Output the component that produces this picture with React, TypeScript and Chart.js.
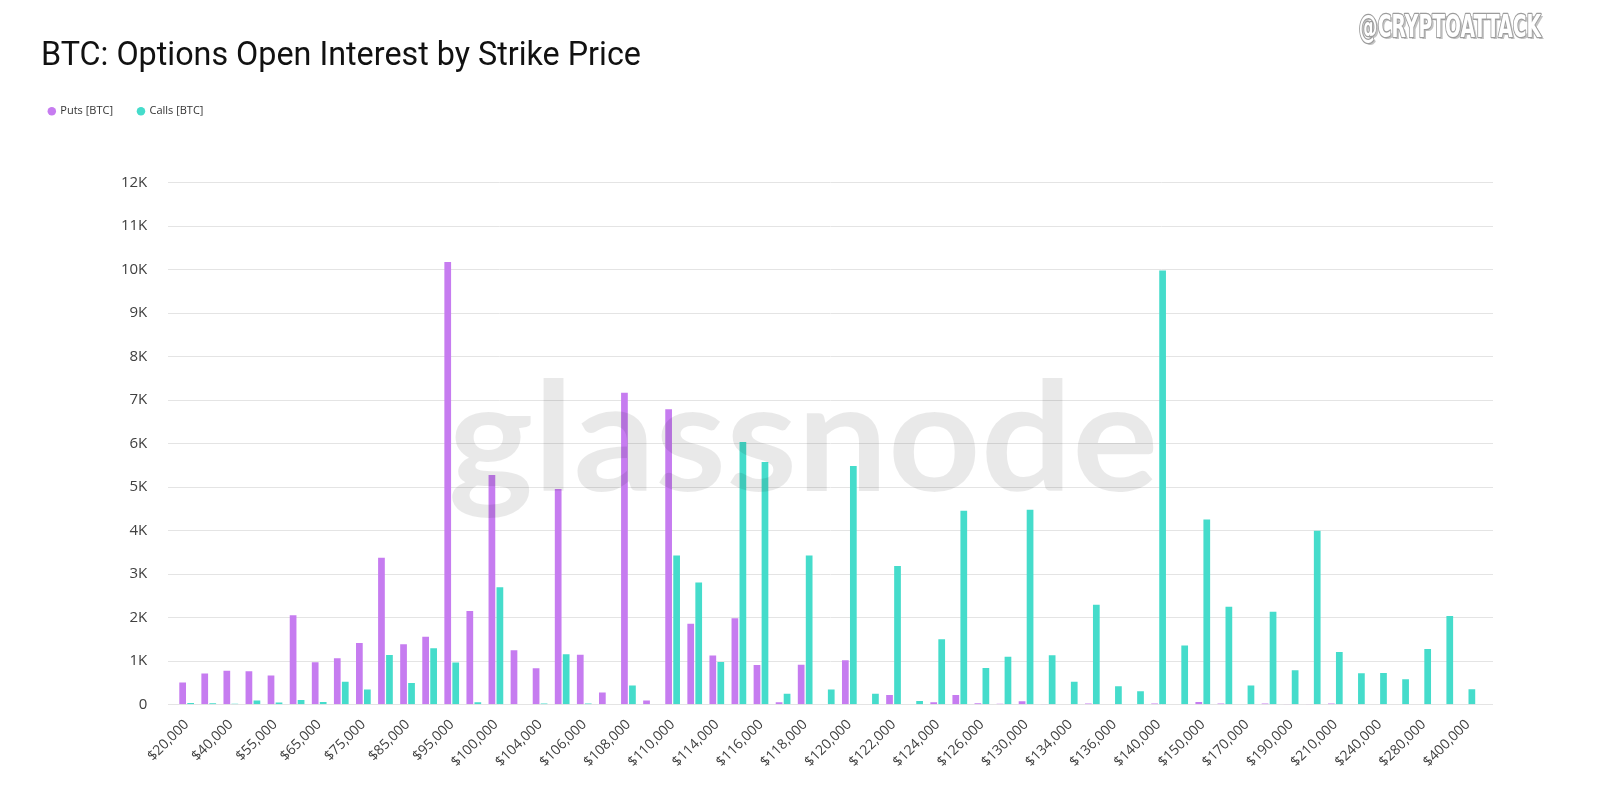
import React, { useEffect, useRef } from 'react';
import { Chart, registerables } from 'chart.js';

Chart.register(...registerables);

const TITLE = 'BTC: Options Open Interest by Strike Price';
const WATERMARK = 'glassnode';
const HANDLE = '@CRYPTOATTACK';

const strikeLabels = [
  '$20,000', '$30,000', '$40,000', '$50,000', '$55,000', '$60,000', '$65,000', '$70,000',
  '$75,000', '$80,000', '$85,000', '$90,000', '$95,000', '$98,000', '$100,000', '$102,000',
  '$104,000', '$105,000', '$106,000', '$107,000', '$108,000', '$109,000', '$110,000', '$112,000',
  '$114,000', '$115,000', '$116,000', '$117,000', '$118,000', '$119,000', '$120,000', '$121,000',
  '$122,000', '$123,000', '$124,000', '$125,000', '$126,000', '$128,000', '$130,000', '$132,000',
  '$134,000', '$135,000', '$136,000', '$138,000', '$140,000', '$145,000', '$150,000', '$160,000',
  '$170,000', '$180,000', '$190,000', '$200,000', '$210,000', '$220,000', '$240,000', '$260,000',
  '$280,000', '$300,000', '$400,000',
];

const putsOI = [
  500, 710, 770, 760, 660, 2050, 965, 1060,
  1410, 3370, 1380, 1555, 10170, 2145, 5270, 1240,
  830, 4950, 1140, 270, 7160, 85, 6780, 1850,
  1120, 1980, 905, 45, 910, 0, 1010, 0,
  215, 0, 45, 215, 25, 10, 70, 8,
  0, 20, 0, 0, 20, 0, 55, 20,
  0, 20, 8, 8, 20, 0, 0, 0,
  0, 0, 0,
];

const callsOI = [
  30, 25, 15, 85, 40, 100, 55, 520,
  340, 1135, 490, 1290, 960, 45, 2690, 0,
  20, 1150, 20, 0, 430, 0, 3420, 2800,
  975, 6030, 5570, 240, 3420, 340, 5480, 240,
  3180, 77, 1495, 4450, 835, 1095, 4470, 1125,
  520, 2290, 415, 300, 9970, 1350, 4250, 2240,
  430, 2130, 780, 3990, 1205, 715, 720, 575,
  1270, 2030, 345,
];

const PUTS_LABEL = 'Puts [BTC]';
const CALLS_LABEL = 'Calls [BTC]';
const PUTS_COLOR = '#c67cf0';
const CALLS_COLOR = '#45dccb';
const TEXT_COLOR = '#404040';
const GRID_COLOR = '#e4e4e4';

const extendedGrid = {
  id: 'extendedGrid',
  beforeDatasetsDraw(chart: any) {
    const { ctx, chartArea, scales } = chart;
    const y = scales.y;
    ctx.save();
    ctx.strokeStyle = GRID_COLOR;
    ctx.lineWidth = 1;
    y.ticks.forEach((t: any) => {
      const py = Math.round(y.getPixelForValue(t.value)) + 0.5;
      ctx.beginPath();
      ctx.moveTo(chartArea.left - 7.6, py);
      ctx.lineTo(chartArea.right + 14.1, py);
      ctx.stroke();
    });
    ctx.restore();
  },
};

const watermark = {
  id: 'watermark',
  afterDatasetsDraw(chart: any) {
    const { ctx, chartArea: a } = chart;
    const w = a.right - a.left;
    const h = a.bottom - a.top;
    const left = a.left + w * 0.2117;
    const targetW = w * 0.5394;
    const baseline = a.top + h * 0.5908;
    const targetAsc = h * 0.2134;
    ctx.save();
    ctx.textBaseline = 'alphabetic';
    ctx.textAlign = 'left';
    ctx.font = '700 100px Lato, "Open Sans", sans-serif';
    const m = ctx.measureText(WATERMARK);
    const mw = m.actualBoundingBoxLeft + m.actualBoundingBoxRight;
    const asc = ctx.measureText('l').actualBoundingBoxAscent;
    ctx.translate(left, baseline);
    ctx.scale(targetW / mw, targetAsc / asc);
    ctx.fillStyle = 'rgba(0,0,0,0.085)';
    ctx.fillText(WATERMARK, m.actualBoundingBoxLeft, 0);
    ctx.restore();
  },
};

const handleMark = {
  id: 'handleMark',
  afterDraw(chart: any) {
    const { ctx, width } = chart;
    const right = width - 58.3;
    const targetW = 181.7;
    const top = 13.3;
    const baseline = 36.7;
    ctx.save();
    ctx.textBaseline = 'alphabetic';
    ctx.textAlign = 'left';
    ctx.font = '700 100px "DejaVu Sans", sans-serif';
    const m = ctx.measureText(HANDLE);
    const mw = m.actualBoundingBoxLeft + m.actualBoundingBoxRight;
    const asc = ctx.measureText('C').actualBoundingBoxAscent;
    const sx = targetW / mw;
    const sy = (baseline - top) / asc;
    ctx.translate(right - targetW, baseline);
    ctx.scale(sx, sy);
    ctx.lineJoin = 'round';
    ctx.fillStyle = '#c4c4c4';
    ctx.fillText(HANDLE, m.actualBoundingBoxLeft + 2.2 / sx, 2.2 / sy);
    ctx.strokeStyle = '#9c9c9c';
    ctx.lineWidth = 1.6 / Math.min(sx, sy);
    ctx.strokeText(HANDLE, m.actualBoundingBoxLeft, 0);
    ctx.fillStyle = '#ffffff';
    ctx.fillText(HANDLE, m.actualBoundingBoxLeft, 0);
    ctx.restore();
  },
};

export default function App() {
  const canvasRef = useRef<HTMLCanvasElement | null>(null);

  useEffect(() => {
    if (!canvasRef.current) return;
    const chart = new Chart(canvasRef.current, {
      type: 'bar',
      data: {
        labels: strikeLabels,
        datasets: [
          {
            label: PUTS_LABEL,
            data: putsOI,
            backgroundColor: PUTS_COLOR,
            borderWidth: 0,
            xAxisID: 'x',
            yAxisID: 'y',
            categoryPercentage: 0.724,
            barPercentage: 0.84,
          },
          {
            label: CALLS_LABEL,
            data: callsOI,
            backgroundColor: CALLS_COLOR,
            borderWidth: 0,
            xAxisID: 'x',
            yAxisID: 'y',
            categoryPercentage: 0.724,
            barPercentage: 0.84,
          },
        ],
      },
      options: {
        responsive: false,
        animation: false,
        layout: { padding: { left: 23.8, right: 121.1, top: 80.7, bottom: 0 } },
        plugins: {
          title: { display: false },
          tooltip: { enabled: false },
          legend: {
            display: true,
            position: 'top',
            align: 'start',
            labels: {
              usePointStyle: true,
              pointStyle: 'circle',
              boxWidth: 6,
              boxHeight: 6,
              padding: 25,
              color: '#333333',
              font: { family: '"Open Sans"', size: 11 },
            },
          },
        },
        scales: {
          x: {
            type: 'category',
            position: 'bottom',
            offset: true,
            grid: { display: false, drawTicks: false },
            border: { display: false },
            ticks: {
              autoSkip: false,
              maxRotation: 45,
              minRotation: 45,
              padding: 12,
              color: TEXT_COLOR,
              font: { family: '"Open Sans"', size: 14 },
              callback: (_v: any, i: number) => (i % 2 === 0 ? strikeLabels[i] : ''),
            },
            afterFit: (s: any) => {
              s.height = 87.7;
            },
          },
          spacer: {
            type: 'category',
            position: 'top',
            display: true,
            grid: { display: false, drawTicks: false },
            border: { display: false },
            ticks: { display: false },
            afterFit: (s: any) => {
              s.height = 55.6;
            },
          },
          y: {
            type: 'linear',
            position: 'left',
            min: 0,
            max: 12000,
            grid: { display: false, drawTicks: false },
            border: { display: false },
            ticks: {
              stepSize: 1000,
              padding: 28.3,
              color: TEXT_COLOR,
              font: { family: '"Open Sans"', size: 15 },
              callback: (v: any) => (Number(v) === 0 ? '0' : `${Number(v) / 1000}K`),
            },
            afterFit: (s: any) => {
              s.width = 151.8;
            },
          },
        },
      } as any,
      plugins: [extendedGrid, watermark, handleMark],
    });
    return () => chart.destroy();
  }, []);

  return (
    <div style={{ position: 'absolute', left: 0, top: 0, width: 1600, height: 792, background: '#ffffff' }}>
      <canvas ref={canvasRef} width={1600} height={792} style={{ width: 1600, height: 792, display: 'block' }} />
      <div
        style={{
          position: 'absolute',
          left: 41,
          top: 37.9,
          fontFamily: 'Roboto, sans-serif',
          fontSize: 32.3,
          lineHeight: 1,
          fontWeight: 400,
          color: '#111111',
          whiteSpace: 'nowrap',
        }}
      >
        {TITLE}
      </div>
    </div>
  );
}
